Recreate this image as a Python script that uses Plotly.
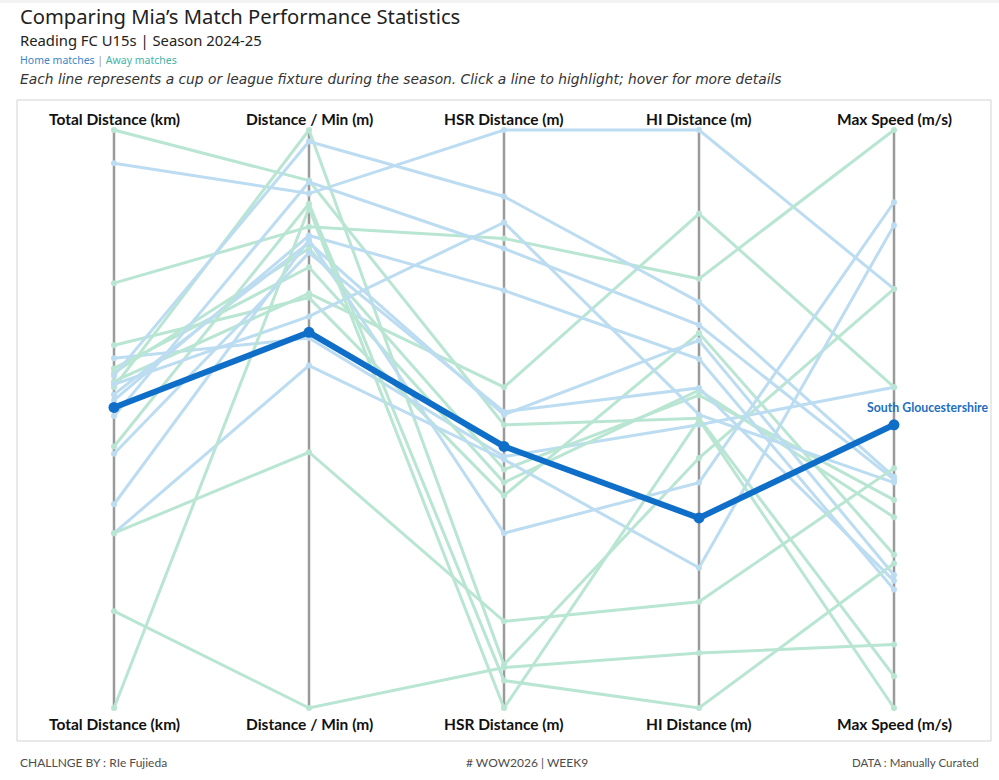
import plotly.graph_objects as go

# ---------------- data ----------------
axis_labels = ["Total Distance (km)", "Distance / Min (m)", "HSR Distance (m)",
               "HI Distance (m)", "Max Speed (m/s)"]

fixtures = ["Fixture 01", "Fixture 02", "Fixture 03", "Fixture 04", "Fixture 05",
            "Fixture 06", "Fixture 07", "Fixture 08", "Fixture 09", "Fixture 10",
            "Fixture 11", "South Gloucestershire", "Fixture 13", "Fixture 14",
            "Fixture 15", "Fixture 16", "Fixture 17", "Fixture 18", "Fixture 19",
            "Fixture 20", "Fixture 21", "Fixture 22"]
venue = ["Away", "Home", "Away", "Away", "Home", "Away", "Away", "Away", "Away",
         "Home", "Home", "Away", "Home", "Away", "Home", "Home", "Home", "Home",
         "Home", "Away", "Away", "Away"]

total_distance = [7.00, 6.77, 5.94, 5.51, 5.42, 5.35, 5.32, 5.26, 5.22, 5.17, 5.13,
                  5.08, 5.02, 4.81, 5.30, 5.24, 4.76, 4.41, 4.21, 4.21, 3.67, 3.00]
dist_per_min = [96.5, 95.6, 93.3, 88.4, 85.6, 90.5, 91.8, 88.7, 100.0, 92.2, 92.7,
                86.0, 96.4, 94.9, 99.2, 87.1, 91.5, 92.4, 83.7, 77.7, 60.0, 94.6]
hsr_distance = [216, 420, 345, 167, 194, 176, 185, 242, 50, 223, 309,
                201, 338, 39, 374, 356, 225, 141, 192, 80, 48, 20]
hi_distance = [601, 1000, 794, 719, 592, 640, 633, 884, 546, 709, 683,
               463, 730, 200, 762, 606, 643, 512, 394, 347, 276, 599]
max_speed = [6.11, 7.45, 8.00, 6.53, 7.11, 6.66, 6.72, 7.11, 7.45, 6.46, 6.41,
             6.98, 6.79, 6.50, 6.80, 6.78, 6.44, 7.75, 7.67, 6.83, 6.22, 6.00]

highlight = "South Gloucestershire"

# ---------------- styling ----------------
HOME_COL = "#bcdcf1"
AWAY_COL = "#b9e5d3"
HIGH_COL = "#0f6fc8"
FONT = "Lato"
HFONT = "Noto Sans"
W, H = 999, 780

columns = [total_distance, dist_per_min, hsr_distance, hi_distance, max_speed]


def norm(col):
    lo, hi = min(col), max(col)
    return [(v - lo) / (hi - lo) for v in col]


normed = [norm(c) for c in columns]
xs = list(range(len(axis_labels)))

fig = go.Figure()

shapes = []
for i in xs:
    shapes.append(dict(type="line", xref="x", yref="y", x0=i, x1=i, y0=0, y1=1,
                       line=dict(color="#9a9a9a", width=2.5), layer="below"))
shapes.append(dict(type="rect", xref="paper", yref="paper",
                   x0=17 / W, x1=991 / W, y0=1 - 741 / H, y1=1 - 100 / H,
                   line=dict(color="#d3d3d3", width=1), layer="below"))
shapes.append(dict(type="rect", xref="paper", yref="paper",
                   x0=0, x1=1, y0=1 - 3 / H, y1=1,
                   line=dict(width=0), fillcolor="#f3f3f3", layer="below"))


def hover_block(k):
    rows = [f"<b>{fixtures[k]}</b> ({venue[k]})"]
    for j, lab in enumerate(axis_labels):
        rows.append(f"{lab}: {columns[j][k]}")
    return "<br>".join(rows)


order = [k for k in range(len(fixtures)) if fixtures[k] != highlight]
for k in order:
    col = HOME_COL if venue[k] == "Home" else AWAY_COL
    ys = [normed[j][k] for j in xs]
    fig.add_trace(go.Scatter(
        x=xs, y=ys, mode="lines+markers",
        line=dict(color=col, width=3),
        marker=dict(color=col, size=6),
        hovertext=[hover_block(k)] * len(xs), hoverinfo="text",
        showlegend=False))

kh = fixtures.index(highlight)
ys_h = [normed[j][kh] for j in xs]
fig.add_trace(go.Scatter(
    x=xs, y=ys_h, mode="lines+markers",
    line=dict(color=HIGH_COL, width=6),
    marker=dict(color=HIGH_COL, size=11),
    hovertext=[hover_block(kh)] * len(xs), hoverinfo="text",
    showlegend=False))

ann = []
for i, lab in enumerate(axis_labels):
    for py in (119, 724):
        ann.append(dict(x=i, xref="x", y=1 - py / H, yref="paper", text=f"<b>{lab}</b>",
                        showarrow=False, xanchor="center", yanchor="middle",
                        font=dict(family=FONT, size=15.5, color="#111111")))

ann.append(dict(x=4, y=ys_h[4], xref="x", yref="y", text=f"<b>{highlight}</b>",
                showarrow=False, xanchor="center", yanchor="middle",
                xshift=34, yshift=17,
                font=dict(family=FONT, size=12.3, color="#1f6fc0")))

ann.append(dict(x=18 / W, y=1 - 16 / H, xref="paper", yref="paper",
                text="Comparing Mia’s Match Performance Statistics",
                showarrow=False, xanchor="left", yanchor="middle",
                font=dict(family=HFONT, size=20.2, color="#222222")))
ann.append(dict(x=18 / W, y=1 - 40 / H, xref="paper", yref="paper",
                text="Reading FC U15s | Season 2024-25",
                showarrow=False, xanchor="left", yanchor="middle",
                font=dict(family=HFONT, size=14.8, color="#222222")))
ann.append(dict(x=18 / W, y=1 - 60 / H, xref="paper", yref="paper",
                text="<span style='color:#3a86c8'>Home matches</span>"
                     "<span style='color:#9a9a9a'> | </span>"
                     "<span style='color:#45b3a6'>Away matches</span>",
                showarrow=False, xanchor="left", yanchor="middle",
                font=dict(family=HFONT, size=10.5, color="#3a86c8")))
ann.append(dict(x=18 / W, y=1 - 79 / H, xref="paper", yref="paper",
                text="<i>Each line represents a cup or league fixture during the season. "
                     "Click a line to highlight; hover for more details</i>",
                showarrow=False, xanchor="left", yanchor="middle",
                font=dict(family="DejaVu Sans", size=13.8, color="#333333")))

ann.append(dict(x=18 / W, y=1 - 762 / H, xref="paper", yref="paper",
                text="CHALLNGE BY : RIe Fujieda", showarrow=False,
                xanchor="left", yanchor="middle",
                font=dict(family=FONT, size=12, color="#4d4d4d")))
ann.append(dict(x=527 / W, y=1 - 762 / H, xref="paper", yref="paper",
                text="# WOW2026 | WEEK9", showarrow=False,
                xanchor="center", yanchor="middle",
                font=dict(family=FONT, size=12, color="#4d4d4d")))
ann.append(dict(x=981 / W, y=1 - 762 / H, xref="paper", yref="paper",
                text="DATA : Manually Curated", showarrow=False,
                xanchor="right", yanchor="middle",
                font=dict(family=FONT, size=11.5, color="#4d4d4d")))

px_per_x = (894 - 114) / 4
px_per_y = 708 - 130
x_range = [-114 / px_per_x, (W - 114) / px_per_x]
y_range = [-(H - 708) / px_per_y, 1 + 130 / px_per_y]

fig.update_layout(
    width=W, height=H,
    margin=dict(l=0, r=0, t=0, b=0),
    paper_bgcolor="white", plot_bgcolor="white",
    xaxis=dict(range=x_range, visible=False, fixedrange=True),
    yaxis=dict(range=y_range, visible=False, fixedrange=True),
    shapes=shapes, annotations=ann,
    hovermode="closest",
    font=dict(family=FONT),
)

fig.write_html("out.html", config={"displayModeBar": False})
